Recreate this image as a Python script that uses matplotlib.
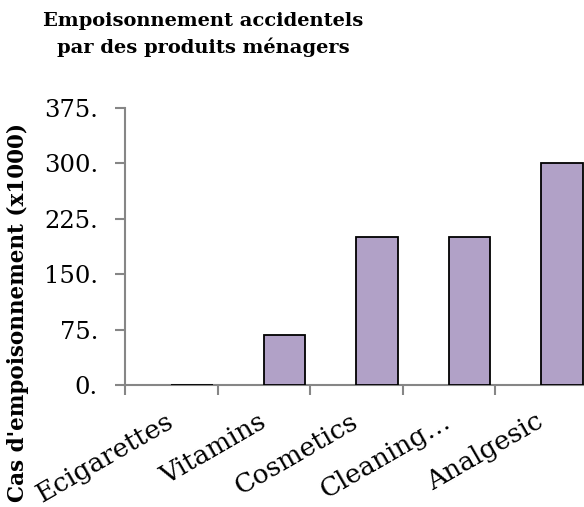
import matplotlib
matplotlib.use("Agg")
import matplotlib.pyplot as plt
import numpy as np

# Data
categories = ["Ecigarettes", "Vitamins", "Cosmetics", "Cleaning…", "Analgesic"]
cases_thousands = [0, 68, 200, 200, 300]
y_ticks = [0, 75, 150, 225, 300, 375]
y_tick_labels = ["0.", "75.", "150.", "225.", "300.", "375."]

title = "Empoisonnement accidentels\npar des produits ménagers"
y_label = "Cas d'empoisonnement (x1000)"

bar_color = "#b1a1c7"
axis_gray = "#868686"
font = "DejaVu Serif"

W, H = 584, 507
fig = plt.figure(figsize=(W / 100, H / 100), dpi=100)
ax = fig.add_axes([125 / W, (H - 385) / H, (587.5 - 125) / W, (385 - 108) / H])

x = np.arange(len(categories))
ax.bar(x, cases_thousands, width=0.45, align="edge", color=bar_color,
       edgecolor="black", linewidth=1.3, zorder=3)

ax.set_xlim(-0.5, len(categories) - 0.5)
ax.set_ylim(0, 375)

for side in ("top", "right"):
    ax.spines[side].set_visible(False)
for side in ("left", "bottom"):
    ax.spines[side].set_color(axis_gray)
    ax.spines[side].set_linewidth(1.5)

ax.set_yticks(y_ticks)
ax.set_yticklabels(y_tick_labels, fontfamily=font, fontsize=17.5)
ax.tick_params(axis="y", direction="out", length=7.5, width=1.5,
               color=axis_gray, pad=12)

ax.set_xticks(x)
ax.set_xticklabels(categories, fontfamily=font, fontsize=19, rotation=30,
                   ha="right", va="center", rotation_mode="anchor")
ax.tick_params(axis="x", which="major", length=0, pad=25)
ax.set_xticks(np.arange(-0.5, len(categories)), minor=True)
ax.tick_params(axis="x", which="minor", direction="out", length=7, width=1.5,
               color=axis_gray)

fig.text(203 / W, 1 - 12 / H, title, ha="center", va="top", fontfamily=font,
         fontweight="bold", fontsize=14, linespacing=1.5)
fig.text(18 / W, 1 - 312 / H, y_label, ha="center", va="center", rotation=90,
         fontfamily=font, fontweight="bold", fontsize=15.5)

fig.savefig("out.png", dpi=100)
